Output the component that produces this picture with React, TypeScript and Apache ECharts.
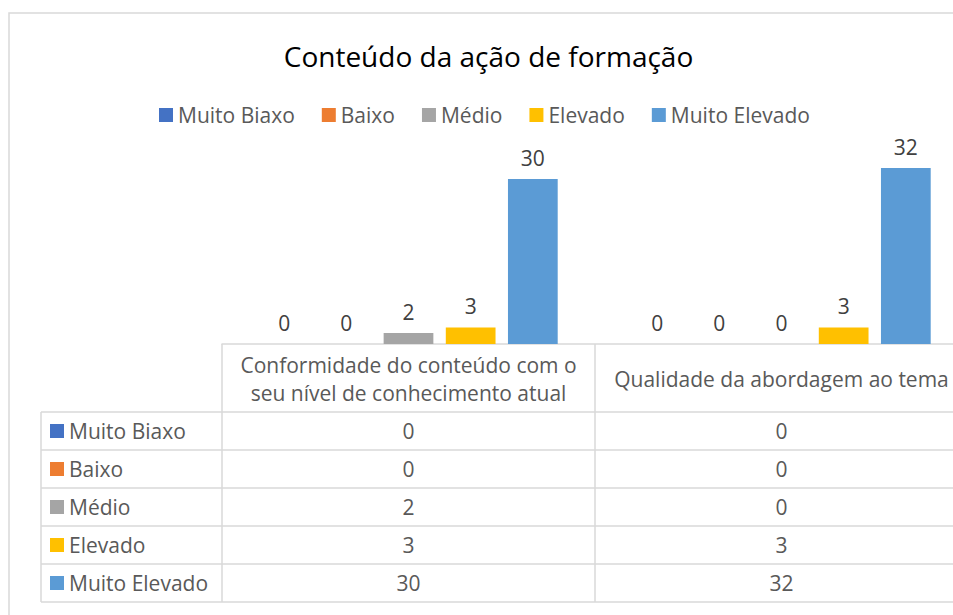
import React, { useEffect, useRef } from "react";
import * as echarts from "echarts";

const categories = [
  "Conformidade do conteúdo com o\nseu nível de conhecimento atual",
  "Qualidade da abordagem ao tema",
];
const seriesNames = ["Muito Biaxo", "Baixo", "Médio", "Elevado", "Muito Elevado"];
const muitoBiaxo = [0, 0];
const baixo = [0, 0];
const medio = [2, 0];
const elevado = [3, 3];
const muitoElevado = [30, 32];
const seriesValues = [muitoBiaxo, baixo, medio, elevado, muitoElevado];
const colors = ["#4472C4", "#ED7D31", "#A5A5A5", "#FFC000", "#5B9BD5"];

const FONT = "'Open Sans', 'Noto Sans', sans-serif";
const TXT = "#595959";
const LINE = "#d9d9d9";
const FS = 21;

export default function App() {
  const ref = useRef<HTMLDivElement>(null);
  useEffect(() => {
    if (!ref.current) return;
    const chart = echarts.init(ref.current, null, { renderer: "svg" });

    const gridLeft = 222;
    const gridTop = 151.5;
    const gridHeight = 192.5;
    const catW = 373;
    const baseY = gridTop + gridHeight;
    const tableLeft = 41;
    const rowTop = 412;
    const rowH = 38;
    const rightEdge = gridLeft + catW * categories.length;

    const graphics: any[] = [];
    graphics.push({
      type: "rect",
      shape: { x: 9, y: 13, width: 1000, height: 700 },
      style: { fill: "none", stroke: LINE, lineWidth: 1.5 },
      silent: true,
    });
    graphics.push({
      type: "text",
      x: 488.5,
      y: 56,
      style: {
        text: "Conteúdo da ação de formação",
        font: `28px ${FONT}`,
        fill: "#000000",
        align: "center",
        verticalAlign: "middle",
      },
    });
    for (let i = 0; i <= seriesNames.length; i++) {
      const y = rowTop + i * rowH;
      graphics.push({
        type: "line",
        shape: { x1: tableLeft, y1: y, x2: rightEdge, y2: y },
        style: { stroke: LINE, lineWidth: 1.5 },
      });
    }
    graphics.push({
      type: "line",
      shape: { x1: tableLeft, y1: rowTop, x2: tableLeft, y2: rowTop + rowH * seriesNames.length },
      style: { stroke: LINE, lineWidth: 1.5 },
    });
    seriesNames.forEach((name, r) => {
      const cy = rowTop + rowH * r + rowH / 2;
      graphics.push({
        type: "rect",
        shape: { x: 50, y: cy - 7, width: 14, height: 14 },
        style: { fill: colors[r] },
      });
      graphics.push({
        type: "text",
        x: 69,
        y: cy,
        style: { text: name, font: `${FS}px ${FONT}`, fill: TXT, align: "left", verticalAlign: "middle" },
      });
      categories.forEach((_, c) => {
        graphics.push({
          type: "text",
          x: gridLeft + catW * (c + 0.5),
          y: cy,
          style: {
            text: String(seriesValues[r][c]),
            font: `${FS}px ${FONT}`,
            fill: TXT,
            align: "center",
            verticalAlign: "middle",
          },
        });
      });
    });

    chart.setOption({
      animation: false,
      backgroundColor: "#ffffff",
      legend: {
        data: seriesNames,
        left: 159,
        top: 104,
        padding: 0,
        itemWidth: 14,
        itemHeight: 14,
        itemGap: 27,
        icon: "rect",
        textStyle: { color: TXT, fontSize: FS, fontFamily: FONT, lineHeight: 22 },
      },
      grid: {
        left: gridLeft,
        top: gridTop,
        width: catW * categories.length,
        height: gridHeight,
        containLabel: false,
        outerBoundsMode: "none",
      },
      xAxis: {
        type: "category",
        data: categories,
        axisLine: { show: true, lineStyle: { color: LINE, width: 1.5 } },
        axisTick: {
          show: true,
          length: rowTop + rowH * seriesNames.length - baseY,
          lineStyle: { color: LINE, width: 1.5 },
        },
        axisLabel: {
          interval: 0,
          margin: 35,
          verticalAlign: "middle",
          color: TXT,
          fontSize: FS,
          lineHeight: 28,
          fontFamily: FONT,
          hideOverlap: false,
        },
      },
      yAxis: {
        type: "value",
        min: 0,
        max: 35,
        show: false,
        splitLine: { show: false },
      },
      series: seriesNames.map((name, i) => ({
        name,
        type: "bar",
        data: seriesValues[i],
        barGap: "25%",
        barCategoryGap: "20%",
        itemStyle: { color: colors[i] },
        label: {
          show: true,
          position: "top",
          distance: 11,
          color: "#404040",
          fontSize: FS,
          fontFamily: FONT,
        },
      })),
      graphic: graphics,
    });
    return () => chart.dispose();
  }, []);
  return (
    <div
      ref={ref}
      style={{ position: "fixed", left: 0, top: 0, width: 953, height: 615 }}
    />
  );
}
